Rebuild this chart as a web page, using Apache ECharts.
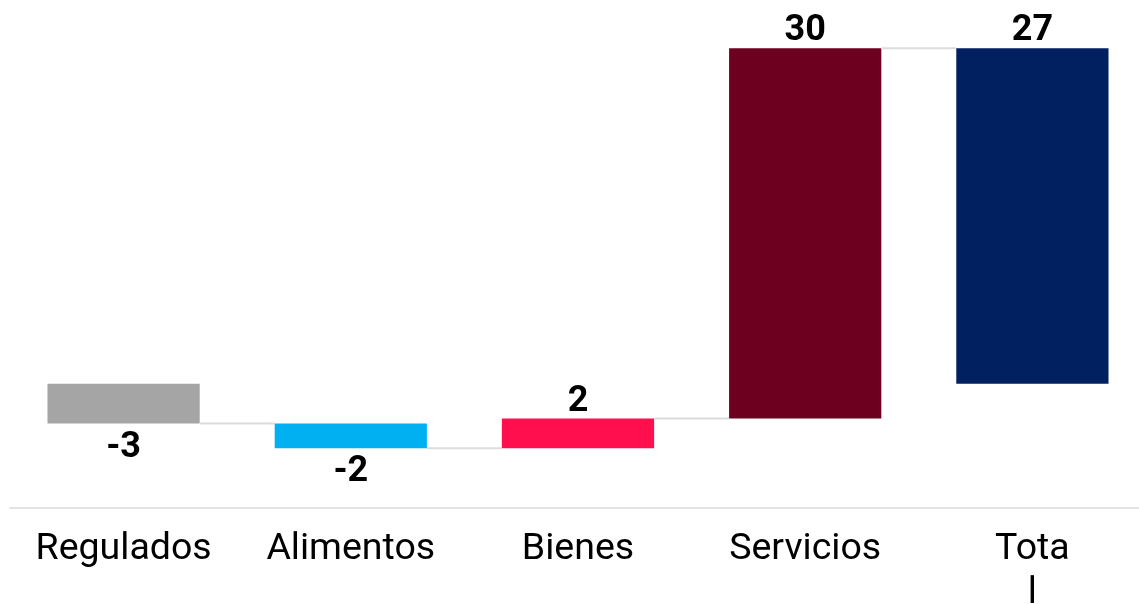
<!DOCTYPE html>
<html>
<head>
<meta charset="utf-8">
<script src="https://cdn.jsdelivr.net/npm/echarts@6/dist/echarts.min.js"></script>
<style>
  html, body { margin: 0; padding: 0; background: #fff; }
  #chart { width: 1139px; height: 604px; }
</style>
</head>
<body>
<div id="chart"></div>
<script>
// categorias y aportes (puntos)
const categories = ['Regulados', 'Alimentos', 'Bienes', 'Servicios', 'Total'];
const values = [-3.2, -2.0, 2.4, 29.8, 27.0];
const valueLabels = ['-3', '-2', '2', '30', '27'];
const isTotal = [false, false, false, false, true];
const barColors = ['#a5a5a5', '#00b0f0', '#ff0f4d', '#6d001f', '#002060'];

// armar inicio / fin de cada barra (cascada)
let acc = 0;
const waterfall = values.map(function(v, i) {
  let start, end;
  if (isTotal[i]) {
    start = 0; end = v;
  } else {
    start = acc; end = acc + v; acc = end;
  }
  return [i, start, end];
});

const myChart = echarts.init(document.getElementById('chart'));

myChart.setOption({
  animation: false,
  textStyle: { fontFamily: 'Roboto' },
  grid: { left: 10, width: 1136, top: 11, bottom: 96, outerBoundsMode: 'none', containLabel: false },
  xAxis: {
    type: 'category',
    data: categories,
    axisLine: { onZero: false, lineStyle: { color: '#e3e3e3', width: 2 } },
    axisTick: { show: false },
    axisLabel: {
      interval: 0,
      hideOverlap: false,
      color: '#000',
      fontSize: 37.5,
      lineHeight: 44,
      margin: 20,
      fontFamily: 'Roboto',
      formatter: function(v) { return v === 'Total' ? 'Tota\nl' : v; }
    }
  },
  yAxis: { type: 'value', min: -10, max: 30, show: false },
  series: [{
    type: 'custom',
    data: waterfall,
    encode: { x: 0, y: [1, 2] },
    renderItem: function(params, api) {
      const i = params.dataIndex;
      const c = api.value(0), s = api.value(1), e = api.value(2);
      const p0 = api.coord([c, s]);
      const p1 = api.coord([c, e]);
      const band = api.size([1, 0])[0];
      const bw = band * 0.67;
      const up = e >= s;
      const children = [{
        type: 'rect',
        shape: { x: p0[0] - bw / 2, y: Math.min(p0[1], p1[1]), width: bw, height: Math.abs(p1[1] - p0[1]) },
        style: { fill: barColors[i] },
        textContent: {
          style: {
            text: valueLabels[i],
            fontSize: 36,
            fontWeight: 'bold',
            fontFamily: 'Roboto',
            fill: '#000'
          }
        },
        textConfig: { position: up ? 'top' : 'bottom', distance: up ? -1 : 6 }
      }];
      if (i < categories.length - 1) {
        children.push({
          type: 'line',
          shape: { x1: p0[0] + bw / 2, y1: p1[1], x2: p0[0] + band - bw / 2, y2: p1[1] },
          style: { stroke: '#dcdcdc', lineWidth: 2 }
        });
      }
      return { type: 'group', children: children };
    }
  }]
});
</script>
</body>
</html>
